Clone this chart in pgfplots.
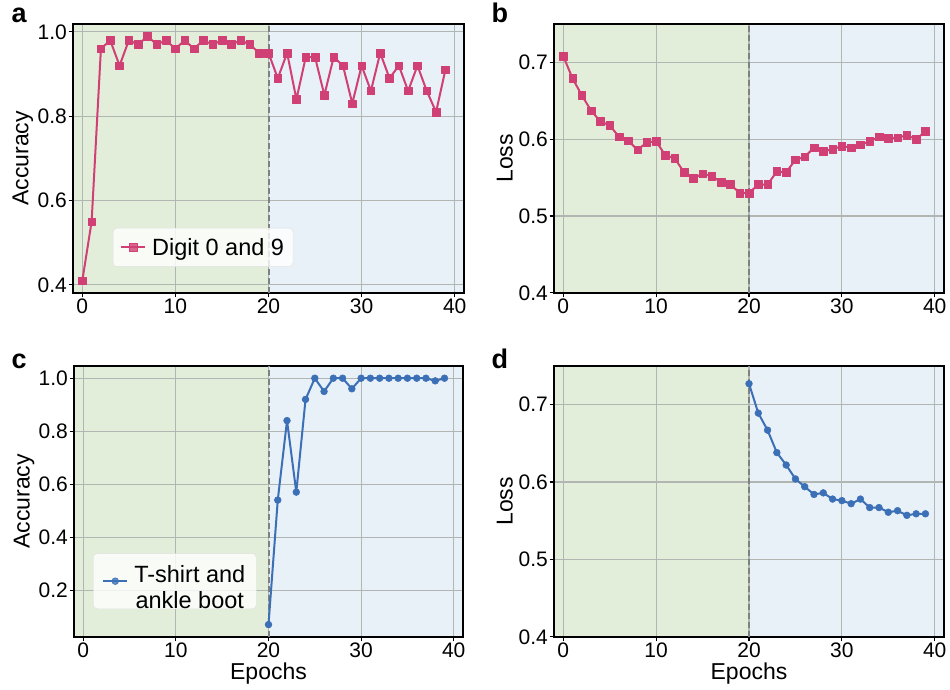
\documentclass[border=0pt]{standalone}
\usepackage{pgfplots}
\pgfplotsset{compat=1.18}
\usepackage{fontspec}
\setmainfont{Liberation Sans}
\definecolor{bggreen}{RGB}{227,238,218}
\definecolor{bgblue}{RGB}{232,240,248}
\definecolor{pinkc}{RGB}{208,64,116}
\definecolor{bluec}{RGB}{59,111,182}
\definecolor{gridc}{RGB}{178,182,178}

\tikzset{vline/.style={black!50, line width=2pt, dash pattern=on 6pt off 3pt}}

\pgfplotsset{
  myax/.style={
    scale only axis, anchor=south west,
    xmin=-1, xmax=41, xtick={0,10,20,30,40},
    axis line style={line width=2pt, black},
    grid=major, major grid style={gridc, line width=1.1pt},
    tick style={black, line width=1.2pt}, tick align=outside, major tick length=4.5pt,
    xtick pos=left, ytick pos=left,
    tick label style={font=\fontsize{21}{23}\selectfont, inner sep=1.5pt},
    label style={font=\fontsize{23}{25}\selectfont},
    /pgf/number format/assume math mode=true,
    yticklabel style={/pgf/number format/fixed, /pgf/number format/fixed zerofill, /pgf/number format/precision=1},
    xticklabel style={/pgf/number format/fixed, /pgf/number format/precision=0},
    set layers,
    xlabel style={at={(axis description cs:0.5,-0.137)}, anchor=center},
    legend style={fill=white, fill opacity=0.8, text opacity=1, draw=black!12, rounded corners=4pt,
      font=\fontsize{23.5}{25}\selectfont, inner xsep=7pt},
    legend image code/.code={\draw[mark repeat=2,mark phase=2] plot coordinates {(0pt,0pt) (12pt,0pt) (24pt,0pt)}; \path (28pt,0pt);},
  },
  pinkline/.style={pinkc, line width=2pt, line join=round, mark=square*, mark size=3.8pt, mark options={solid, fill=pinkc, draw=pinkc, line width=0.5pt}},
  blueline/.style={bluec, line width=2pt, line join=round, mark=*, mark size=3.4pt, mark options={solid, fill=bluec, draw=bluec, line width=0.5pt}},
}

\begin{document}
\begin{tikzpicture}

% ---------------- a ----------------
\begin{axis}[myax, at={(73pt,397pt)}, width=391pt, height=269pt,
  ymin=0.381, ymax=1.019, ytick={0.4,0.6,0.8,1.0},
  ylabel={Accuracy}, ylabel style={at={(axis description cs:-0.128,0.5)}, anchor=center},
  legend style={at={(axis description cs:0.102,0.097)}, anchor=south west, inner ysep=8pt}]
\begin{pgfonlayer}{axis background}
\fill[bggreen] (axis cs:-1,0.381) rectangle (axis cs:20,1.019);
\fill[bgblue] (axis cs:20,0.381) rectangle (axis cs:41,1.019);
\end{pgfonlayer}
\draw[vline] (axis cs:20,0.381) -- (axis cs:20,1.019);
\addplot[pinkline] coordinates {
(0,0.41) (1,0.55) (2,0.96) (3,0.98) (4,0.92) (5,0.98) (6,0.97) (7,0.99) (8,0.97) (9,0.98)
(10,0.96) (11,0.98) (12,0.96) (13,0.98) (14,0.97) (15,0.98) (16,0.97) (17,0.98) (18,0.97) (19,0.95)
(20,0.95) (21,0.89) (22,0.95) (23,0.84) (24,0.94) (25,0.94) (26,0.85) (27,0.94) (28,0.92) (29,0.83)
(30,0.92) (31,0.86) (32,0.95) (33,0.89) (34,0.92) (35,0.86) (36,0.92) (37,0.86) (38,0.81) (39,0.91)
};
\addlegendentry{Digit 0 and 9}
\end{axis}

% ---------------- b ----------------
\begin{axis}[myax, at={(554pt,397pt)}, width=390pt, height=269pt,
  ymin=0.4, ymax=0.75, ytick={0.4,0.5,0.6,0.7},
  ylabel={Loss}, ylabel style={at={(axis description cs:-0.126,0.5)}, anchor=center}]
\begin{pgfonlayer}{axis background}
\fill[bggreen] (axis cs:-1,0.4) rectangle (axis cs:20,0.75);
\fill[bgblue] (axis cs:20,0.4) rectangle (axis cs:41,0.75);
\end{pgfonlayer}
\draw[vline] (axis cs:20,0.4) -- (axis cs:20,0.75);
\addplot[pinkline] coordinates {
(0,0.708) (1,0.679) (2,0.657) (3,0.637) (4,0.623) (5,0.618) (6,0.603) (7,0.598) (8,0.586) (9,0.596)
(10,0.597) (11,0.579) (12,0.575) (13,0.557) (14,0.549) (15,0.555) (16,0.552) (17,0.544) (18,0.541) (19,0.530)
(20,0.530) (21,0.541) (22,0.541) (23,0.558) (24,0.557) (25,0.573) (26,0.577) (27,0.589) (28,0.584) (29,0.587)
(30,0.591) (31,0.589) (32,0.593) (33,0.597) (34,0.603) (35,0.601) (36,0.602) (37,0.605) (38,0.600) (39,0.610)
};
\end{axis}

% ---------------- c ----------------
\begin{axis}[myax, at={(74pt,53pt)}, width=389pt, height=271pt,
  ymin=0.0235, ymax=1.0465, ytick={0.2,0.4,0.6,0.8,1.0},
  ylabel={Accuracy}, ylabel style={at={(axis description cs:-0.128,0.5)}, anchor=center},
  xlabel={Epochs},
  legend style={at={(axis description cs:0.049,0.103)}, anchor=south west, inner ysep=9pt, inner xsep=9pt}]
\begin{pgfonlayer}{axis background}
\fill[bggreen] (axis cs:-1,0.0235) rectangle (axis cs:20,1.0465);
\fill[bgblue] (axis cs:20,0.0235) rectangle (axis cs:41,1.0465);
\end{pgfonlayer}
\draw[vline] (axis cs:20,0.0235) -- (axis cs:20,1.0465);
\addplot[blueline] coordinates {
(20,0.07) (21,0.54) (22,0.84) (23,0.57) (24,0.92) (25,1.0) (26,0.95) (27,1.0) (28,1.0) (29,0.96)
(30,1.0) (31,1.0) (32,1.0) (33,1.0) (34,1.0) (35,1.0) (36,1.0) (37,1.0) (38,0.99) (39,1.0)
};
\addlegendentry{\begin{tabular}{@{}c@{}}T-shirt and\\[1pt]ankle boot\end{tabular}}
\end{axis}

% ---------------- d ----------------
\begin{axis}[myax, at={(554pt,53pt)}, width=390pt, height=271pt,
  ymin=0.4, ymax=0.75, ytick={0.4,0.5,0.6,0.7},
  ylabel={Loss}, ylabel style={at={(axis description cs:-0.126,0.5)}, anchor=center},
  xlabel={Epochs}]
\begin{pgfonlayer}{axis background}
\fill[bggreen] (axis cs:-1,0.4) rectangle (axis cs:20,0.75);
\fill[bgblue] (axis cs:20,0.4) rectangle (axis cs:41,0.75);
\end{pgfonlayer}
\draw[vline] (axis cs:20,0.4) -- (axis cs:20,0.75);
\addplot[blueline] coordinates {
(20,0.727) (21,0.689) (22,0.667) (23,0.638) (24,0.622) (25,0.604) (26,0.594) (27,0.584) (28,0.586) (29,0.578)
(30,0.576) (31,0.572) (32,0.578) (33,0.567) (34,0.567) (35,0.561) (36,0.563) (37,0.557) (38,0.559) (39,0.559)
};
\end{axis}

% panel letters
\node[font=\fontsize{27}{29}\selectfont\bfseries, anchor=base west] at (8pt,667pt) {a};
\node[font=\fontsize{27}{29}\selectfont\bfseries, anchor=base west] at (488pt,667pt) {b};
\node[font=\fontsize{27}{29}\selectfont\bfseries, anchor=base west] at (8pt,321pt) {c};
\node[font=\fontsize{27}{29}\selectfont\bfseries, anchor=base west] at (488pt,321pt) {d};
\path (0pt,0pt) rectangle (950pt,689pt);
\end{tikzpicture}
\end{document}
